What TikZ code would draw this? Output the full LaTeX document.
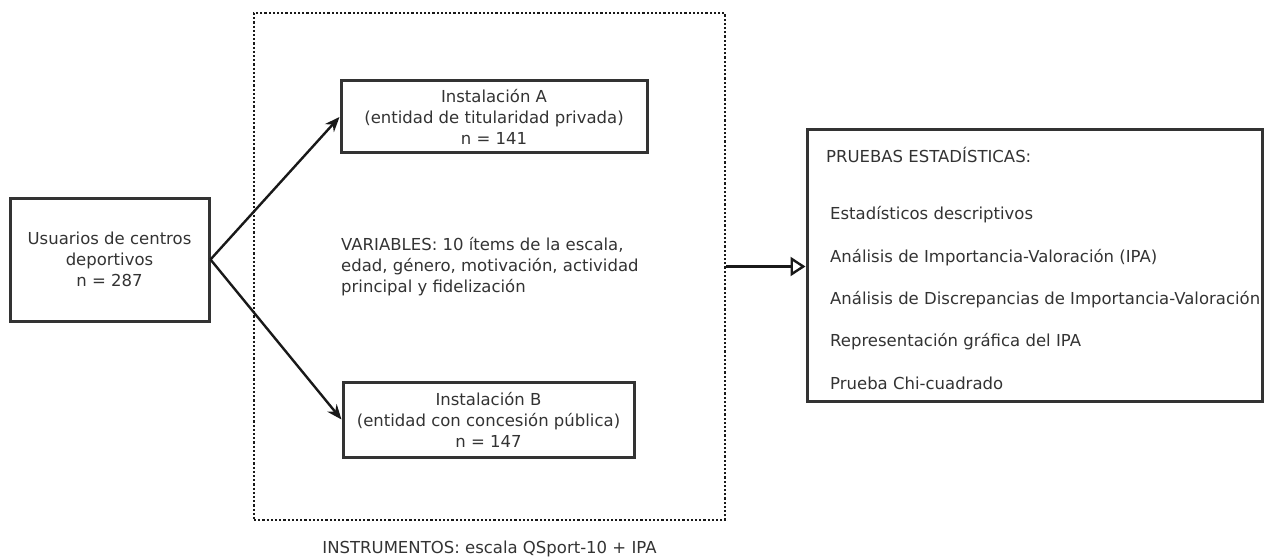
\documentclass[tikz,border=0pt]{standalone}
\usepackage{fontspec}
\setmainfont{DejaVu Sans}
\usepackage{tikz}
\usetikzlibrary{arrows,arrows.meta}
\usetikzlibrary{calc,positioning,fit}

\tikzset{
  box/.style={draw=black!80,line width=3pt,text=black!80,align=center,inner sep=0pt},
  frame/.style={draw=black!90,line width=2.4pt,dash pattern=on 2.2pt off 2pt,inner sep=0pt},
  txt/.style={text=black!80,inner sep=0pt}
}

\begin{document}
\begin{tikzpicture}[x=1pt,y=-1pt,->,>={Stealth[length=15pt,width=12pt,inset=5pt]},line width=2.4pt,
  font=\fontsize{16.5}{21}\selectfont]
	  \useasboundingbox (0,0) rectangle (1264,559);
	  \node[frame,minimum width=471pt,minimum height=507pt] (F) at (489.5,266.5) {};
	  \node[box,minimum width=199pt,minimum height=123pt] (U) at (109.5,259.5)
	    {Usuarios de centros\\deportivos\\n = 287};
	  \node[box,minimum width=306pt,minimum height=72pt] (A) at (494,117)
	    {Instalación A\\(entidad de titularidad privada)\\n = 141};
	  \node[box,minimum width=291pt,minimum height=75pt] (B) at (488.5,419.5)
	    {Instalación B\\(entidad con concesión pública)\\n = 147};
	  \node[txt,anchor=west,align=left] (V) at (340,267)
	    {VARIABLES: 10 ítems de la escala,\\edad, género, motivación, actividad\\principal y fidelización};
	  \node[txt] (I) at (489.5,549) {INSTRUMENTOS: escala QSport-10 + IPA};
	  \node[box,minimum width=455pt,minimum height=271pt] (P) at (1034.5,265.5) {};
	  \node[txt,anchor=west] (P0) at (825,155) {PRUEBAS ESTADÍSTICAS:};
	  \node[txt,anchor=west] (P1) at (829,215) {Estadísticos descriptivos};
	  \node[txt,anchor=west] (P2) at (829,258) {Análisis de Importancia-Valoración (IPA)};
	  \node[txt,anchor=west] (P3) at (829,300) {Análisis de Discrepancias de Importancia-Valoración};
	  \node[txt,anchor=west] (P4) at (829,342) {Representación gráfica del IPA};
	  \node[txt,anchor=west] (P5) at (829,383) {Prueba Chi-cuadrado};
	  \draw[black!90] (U.east) -- (A.west);
	  \draw[black!90] (U.east) -- (B.west);
	  \draw[black!90,-{Triangle[open,length=15pt,width=19pt]}] (F.east) -- (F.east -| P.west);
	\end{tikzpicture}
\end{document}
